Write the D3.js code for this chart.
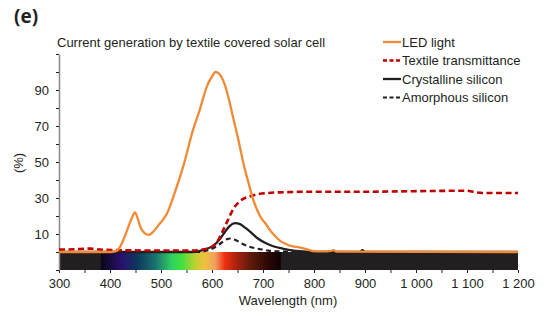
<!DOCTYPE html>
<head>
<meta charset="utf-8">
</head>
<style>
  body { margin: 0; background: #fff; }
  svg { font-family: "Liberation Sans", Arial, sans-serif; }
  .axis text { font-size: 13px; fill: #231f20; }
  .axis line { stroke: #231f20; }
  .y.axis path { stroke: #8a8a8a; stroke-width: 1.5; }
  .x.axis path { display: none; }
</style>
<body>
<script src="https://d3js.org/d3.v7.min.js"></script>
<script>

// LED light spectrum (%)
var ledNm  = [300, 400, 412, 420, 428, 436, 443, 449, 455, 461, 468, 476, 484, 494, 504, 511, 527, 544, 563, 576, 590, 600, 607, 614, 625, 633, 642, 652, 661, 671, 681, 694, 707, 714, 725, 733, 745, 753, 766, 779, 790, 798, 815, 834, 838, 845, 1200]
var ledVal = [0, 0, 0.5, 3, 8, 14, 19, 22, 18, 13, 10.5, 9.5, 11, 14.5, 18, 21, 33, 48, 68, 79, 92, 97.5, 100, 99, 93, 85, 74, 62, 50, 39, 29, 20, 15, 12, 8.5, 6.3, 4.5, 3.5, 2.8, 2, 1.2, 0.5, 0.3, 0.6, 1, 0.2, 0]

// textile transmittance (%)
var texNm  = [300, 330, 360, 380, 420, 500, 560, 585, 600, 610, 620, 630, 642, 652, 661, 675, 688, 710, 740, 800, 900, 1000, 1080, 1100, 1115, 1130, 1200]
var texVal = [1.3, 1.5, 1.9, 1.4, 1.0, 0.8, 0.8, 1.5, 3, 5.5, 11, 17, 24, 27.5, 29.5, 31, 32, 32.8, 33.2, 33.5, 33.5, 33.8, 34, 34, 33.2, 32.8, 32.8]

// crystalline silicon (%)
var crysNm  = [300, 560, 575, 590, 603, 615, 625, 635, 645, 655, 665, 678, 690, 705, 720, 740, 760, 790, 820, 890, 895, 900, 1200]
var crysVal = [0, 0, 0.5, 1.8, 3.5, 7, 11, 14.5, 16, 15.5, 13.5, 10.5, 7.5, 5, 3.2, 1.8, 0.8, 0.2, 0, 0, 1, 0, 0]

// amorphous silicon (%)
var amorNm  = [300, 570, 590, 605, 618, 628, 636, 645, 660, 675, 690, 710, 740, 760, 1200]
var amorVal = [0, 0, 0.8, 2.5, 5, 7, 7.5, 6.8, 4.5, 2.8, 1.8, 0.8, 0.2, 0, 0]

// visible spectrum strip
var specNm    = [382, 423, 455, 488, 521, 540, 567, 586, 606, 625, 651, 678, 710, 735]
var specColor = ["#0a0515", "#2a1070", "#0d3a5a", "#1a7070", "#30d060", "#40e040", "#c0d030", "#f0c040", "#f0a060", "#f03010", "#a02010", "#5a1a08", "#2a0805", "#100000"]

var xTicks = d3.range(300, 1201, 50)
var yTicks = d3.range(-10, 111, 10)
var yLabels = [10, 30, 50, 70, 90]

var series = [
  {name: "LED light", nm: ledNm, val: ledVal, color: "#f08a35", dash: null, w: 2.3},
  {name: "Textile transmittance", nm: texNm, val: texVal, color: "#c00000", dash: "6,3.5", w: 2.6},
  {name: "Crystalline silicon", nm: crysNm, val: crysVal, color: "#231f20", dash: null, w: 2.3},
  {name: "Amorphous silicon", nm: amorNm, val: amorVal, color: "#231f20", dash: "5,3.5", w: 2.2}
]

var width = 551, height = 316

var svg = d3.select("body").append("svg")
    .attr("width", width)
    .attr("height", height)

var x = d3.scaleLinear().domain([300, 1200]).range([59, 518])
var y = d3.scaleLinear().domain([-10, 110]).range([270, 54])

// panel letter + title
svg.append("text")
    .attr("x", 14).attr("y", 23)
    .style("font-family", "'Open Sans', sans-serif")
    .style("font-weight", "bold")
    .style("font-size", "19px")
    .attr("fill", "#231f20")
    .text("(e)")

svg.append("text")
    .attr("x", 57).attr("y", 47)
    .style("font-size", "13px")
    .attr("fill", "#231f20")
    .text("Current generation by textile covered solar cell")

// dark strip + spectrum
var defs = svg.append("defs")
var grad = defs.append("linearGradient")
    .attr("id", "spec")
    .attr("x1", "0%").attr("x2", "100%")
grad.selectAll("stop")
    .data(specNm)
  .enter().append("stop")
    .attr("offset", function(d) { return (d - specNm[0]) / (specNm[specNm.length - 1] - specNm[0]) })
    .attr("stop-color", function(d, i) { return specColor[i] })

svg.append("rect")
    .attr("x", x(300)).attr("y", y(0))
    .attr("width", x(1200) - x(300))
    .attr("height", y(-10) - y(0))
    .attr("fill", "#231f20")

svg.append("rect")
    .attr("x", x(specNm[0])).attr("y", y(0))
    .attr("width", x(specNm[specNm.length - 1]) - x(specNm[0]))
    .attr("height", y(-10) - y(0))
    .attr("fill", "url(#spec)")

// axes
svg.append("g")
    .attr("class", "x axis")
    .attr("transform", "translate(0," + y(-10) + ")")
    .call(d3.axisBottom(x).tickValues(xTicks).tickSize(3).tickPadding(6)
      .tickFormat(function(d) {
        if (d % 100) return ""
        return d >= 1000 ? Math.floor(d / 1000) + " " + d3.format("03")(d % 1000) : d
      }))

svg.append("g")
    .attr("class", "y axis")
    .attr("transform", "translate(" + x(300) + ",0)")
    .call(d3.axisLeft(y).tickValues(yTicks).tickSize(3).tickSizeOuter(0).tickPadding(7)
      .tickFormat(function(d) { return yLabels.indexOf(d) >= 0 ? d : "" }))

svg.append("text")
    .attr("transform", "translate(23,163) rotate(-90)")
    .attr("text-anchor", "middle")
    .style("font-size", "13px")
    .attr("fill", "#231f20")
    .text("(%)")

svg.append("text")
    .attr("x", 288).attr("y", 305)
    .attr("text-anchor", "middle")
    .style("font-size", "13px")
    .attr("fill", "#231f20")
    .text("Wavelength (nm)")

// curves
var line = d3.line()
    .x(function(d) { return x(d[0]) })
    .y(function(d) { return y(d[1]) })
    .curve(d3.curveMonotoneX)

var drawOrder = [2, 3, 1, 0]
drawOrder.forEach(function(i) {
  var s = series[i]
  svg.append("path")
      .datum(s.nm.map(function(n, j) { return [n, s.val[j]] }))
      .attr("fill", "none")
      .attr("stroke", s.color)
      .attr("stroke-width", s.w)
      .attr("stroke-dasharray", s.dash)
      .attr("d", line)
})

// legend
var legend = svg.selectAll(".legend")
    .data(series)
  .enter().append("g")
    .attr("class", "legend")
    .attr("transform", function(d, i) { return "translate(383," + (42 + i * 18.5) + ")" })

legend.append("line")
    .attr("x1", 0).attr("x2", 18)
    .attr("stroke", function(d) { return d.color })
    .attr("stroke-width", function(d) { return d.w })
    .attr("stroke-dasharray", function(d) { return d.dash ? "4,2.5" : null })

legend.append("text")
    .attr("x", 19)
    .attr("y", 4.5)
    .style("font-size", "13px")
    .attr("fill", "#231f20")
    .text(function(d) { return d.name })

</script>
</body>
